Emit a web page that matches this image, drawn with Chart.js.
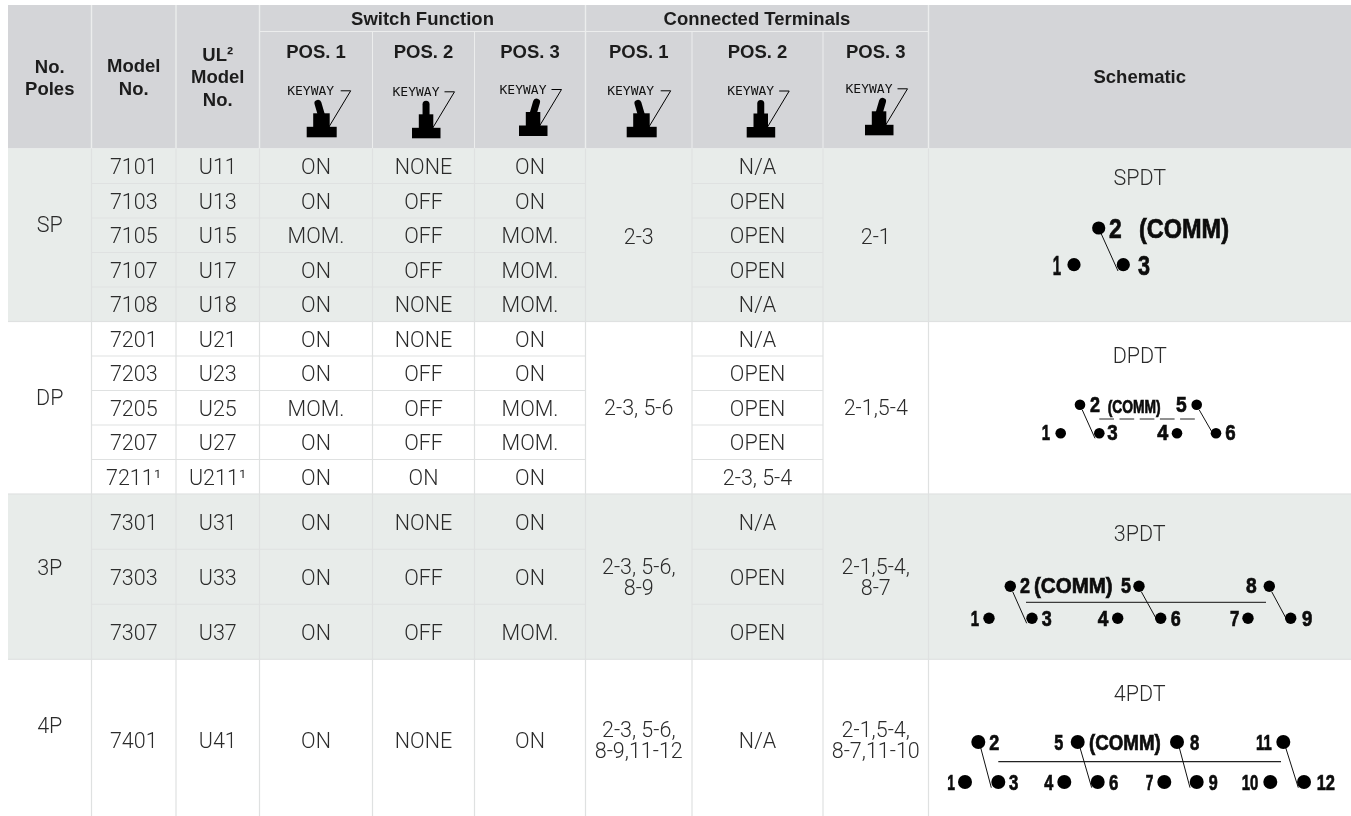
<!DOCTYPE html>
<html>
<head>
<meta charset="utf-8">
<title>Toggle switch table</title>
<script src="https://cdn.jsdelivr.net/npm/chart.js@4/dist/chart.umd.min.js"></script>
<style>
  html, body { margin: 0; padding: 0; background: #fff; }
  #wrap { width: 1351px; height: 816px; overflow: hidden; }
</style>
</head>
<body>
<div id="wrap"><canvas id="mychart" width="1351" height="816"></canvas></div>
<script>
// table content
const poles = ["SP", "DP", "3P", "4P"];
const modelNos = ["7101", "7103", "7105", "7107", "7108", "7201", "7203", "7205", "7207", "7211¹", "7301", "7303", "7307", "7401"];
const ulModelNos = ["U11", "U13", "U15", "U17", "U18", "U21", "U23", "U25", "U27", "U211¹", "U31", "U33", "U37", "U41"];
const switchPos1 = ["ON", "ON", "MOM.", "ON", "ON", "ON", "ON", "MOM.", "ON", "ON", "ON", "ON", "ON", "ON"];
const switchPos2 = ["NONE", "OFF", "OFF", "OFF", "NONE", "NONE", "OFF", "OFF", "OFF", "ON", "NONE", "OFF", "OFF", "NONE"];
const switchPos3 = ["ON", "ON", "MOM.", "MOM.", "MOM.", "ON", "ON", "MOM.", "MOM.", "ON", "ON", "ON", "MOM.", "ON"];
const connPos1 = [["2-3"], ["2-3, 5-6"], ["2-3, 5-6,", "8-9"], ["2-3, 5-6,", "8-9,11-12"]];
const connPos2 = ["N/A", "OPEN", "OPEN", "OPEN", "N/A", "N/A", "OPEN", "OPEN", "OPEN", "2-3, 5-4", "N/A", "OPEN", "OPEN", "N/A"];
const connPos3 = [["2-1"], ["2-1,5-4"], ["2-1,5-4,", "8-7"], ["2-1,5-4,", "8-7,11-10"]];
const schematicNames = ["SPDT", "DPDT", "3PDT", "4PDT"];
const positionHeads = ["POS. 1", "POS. 2", "POS. 3", "POS. 1", "POS. 2", "POS. 3"];

// layout, in scale units (one unit = one pixel on this canvas)
const colEdges = [8, 91.5, 176, 259.5, 372.5, 474.5, 585.5, 692, 823, 928.5, 1351];
const rowEdges = [148.5, 183.5, 218, 252.5, 287, 321.5, 356, 390.5, 425, 459.5, 494, 549.3, 604.3, 659.3, 816];
const groupRows = [[0, 5], [5, 10], [10, 13], [13, 14]]; // rows of each pole group
const poleTextY = [224, 397, 566.7, 725];
const connTextY = [236, 407, 577, 740];
const titleY = [177.5, 354.7, 533.3, 693.3];
const lastRowTextY = 740;

// schematic terminals: [x, y]
const spdtDots = [[1098.7, 228], [1074, 264.7], [1123.3, 264.7]];
const dpdtDots = [[1080, 404.7], [1060.7, 433.3], [1099.3, 433.3], [1177, 433.3], [1196.7, 404.7], [1216, 433.3]];
const tpdtDots = [[1010.3, 586.3], [989, 618.3], [1032, 618.3], [1117.7, 618.3], [1139, 586.3], [1160.7, 618.3], [1248, 618.3], [1269.3, 586.3], [1290.7, 618.3]];
const fpdtDots = [[978.3, 742], [965, 782], [998.3, 782], [1064.3, 782], [1077.7, 742], [1097.7, 782], [1164.3, 782], [1177, 742], [1196.7, 782], [1270.3, 782], [1283.3, 742], [1304, 782]];

// schematic wires: [x0, y0, x1, y1]
const spdtWires = [[1101, 233.3, 1118, 271]];
const dpdtWires = [[1082.3, 410, 1095, 438.3], [1199.3, 410, 1212.7, 433.3]];
const tpdtWires = [[1012.7, 591.7, 1026.7, 623.3], [1141.3, 591.7, 1156, 618.3], [1271.7, 591.7, 1286, 618.3]];
const fpdtWires = [[980.7, 747.7, 991.3, 787.7], [1080, 747.7, 1091.7, 787.7], [1179.3, 747.7, 1190, 787.7], [1285.7, 747.7, 1298.3, 787.7]];

// schematic labels: [text, x0, x1, centerY, capHeight]
const schematicLabels = [
  ["2", 1109, 1121.7, 228, 19], ["(COMM)", 1139, 1229, 228, 19], ["1", 1052.7, 1061, 265, 19], ["3", 1138, 1150, 265, 19],
  ["2", 1090, 1100, 404.3, 15.7], ["(COMM)", 1107.7, 1160.7, 406.7, 12.7], ["5", 1176, 1186.7, 404.3, 15.7], ["1", 1041.7, 1050, 432, 15.7], ["3", 1107.3, 1117.7, 432, 15.7], ["4", 1157.3, 1168.3, 432, 15.7], ["6", 1225.3, 1235.7, 432, 15.7],
  ["2", 1020, 1030, 585, 15.7], ["(COMM)", 1034, 1112.7, 585, 15.7], ["5", 1121, 1131, 585, 15.7], ["8", 1246, 1256.7, 585, 15.7], ["1", 970.7, 979, 618.3, 15.7], ["3", 1041.7, 1051.7, 618.3, 15.7], ["4", 1097.7, 1108.3, 618.3, 15.7], ["6", 1170.7, 1180.7, 618.3, 15.7], ["7", 1230, 1239.3, 618.3, 15.7], ["9", 1302, 1312.3, 618.3, 15.7],
  ["2", 989.3, 999.3, 742, 15], ["5", 1054.3, 1063.3, 742, 15], ["(COMM)", 1089, 1160.7, 742, 15], ["8", 1190, 1199.3, 742, 15], ["11", 1256, 1271.7, 742, 15], ["1", 947.3, 955, 782, 15], ["3", 1009, 1018.3, 782, 15], ["4", 1044.3, 1053.3, 782, 15], ["6", 1109, 1118.3, 782, 15], ["7", 1145.7, 1153.3, 782, 15], ["9", 1208.7, 1217.7, 782, 15], ["10", 1241.7, 1258.3, 782, 15], ["12", 1316.7, 1335, 782, 15],
];

// toggle icons: [base left, base bottom, lever tilt -1/0/1]
const toggles = [[306.7, 137.3, -1], [412, 138.3, 0], [519, 136, 1], [626.7, 137.3, -1], [746.7, 137.5, 0], [865, 135.3, 1]];

const HEAD_BG = "#d4d5d8";
const BAND_BG = "#e8ecea";
const GRID = "#dfe1e1";
const HEAD_LINE = "#eceded";
const INK = "#2b2b2b";
const HEAD_INK = "#1c1c1c";
const BOLD = "bold 18.5px 'Liberation Sans'";
const BODY = "300 21.5px Roboto";

function wireSets(wires, width) {
  return wires.map((w) => ({
    type: "scatter", showLine: true, pointRadius: 0, borderColor: "#111", borderWidth: width || 1,
    data: [{ x: w[0], y: w[1] }, { x: w[2], y: w[3] }],
  }));
}
function dotSet(dots, r) {
  return {
    type: "scatter", showLine: false, pointRadius: r, pointBorderWidth: 0, pointBackgroundColor: "#000",
    data: dots.map((d) => ({ x: d[0], y: d[1] })),
  };
}

const tablePlugin = {
  id: "tablePlugin",
  beforeDatasetsDraw(chart) {
    const ctx = chart.ctx;
    const xs = chart.scales.x;
    const ys = chart.scales.y;
    const X = (v) => xs.getPixelForValue(v);
    const Y = (v) => ys.getPixelForValue(v);

    function rect(x0, y0, x1, y1, color) {
      ctx.fillStyle = color;
      ctx.fillRect(X(x0), Y(y0), X(x1) - X(x0), Y(y1) - Y(y0));
    }
    function hline(x0, x1, y, color, w) {
      rect(x0, y - w / 2, x1, y + w / 2, color);
    }
    function vline(x, y0, y1, color, w) {
      rect(x - w / 2, y0, x + w / 2, y1, color);
    }
    function text(str, x, y, font, color) {
      ctx.font = font;
      ctx.fillStyle = color || INK;
      ctx.textAlign = "center";
      ctx.textBaseline = "middle";
      ctx.fillText(str, X(x), Y(y));
    }
    // y is where the capitals should be centred
    const head = (str, x, y) => text(str, x, y + 1, BOLD, HEAD_INK);
    const body = (str, x, y) => text(str, x, y + 2.5, BODY, INK);
    const mid = (i) => (colEdges[i] + colEdges[i + 1]) / 2;

    // backgrounds
    rect(colEdges[0], 5, 1351, rowEdges[0], HEAD_BG);
    rect(colEdges[0], rowEdges[0], 1351, rowEdges[5], BAND_BG);
    rect(colEdges[0], rowEdges[10], 1351, rowEdges[13], BAND_BG);

    // header lines
    [1, 2, 3, 6, 9].forEach((i) => vline(colEdges[i], 5, rowEdges[0], HEAD_LINE, 1.4));
    [4, 5, 7, 8].forEach((i) => vline(colEdges[i], 32, rowEdges[0], HEAD_LINE, 1));
    hline(colEdges[3], colEdges[9], 31.5, HEAD_LINE, 1);

    // body lines
    for (let i = 1; i < 10; i++) vline(colEdges[i], rowEdges[0], 816, GRID, 1.2);
    groupRows.forEach((g) => {
      for (let r = g[0] + 1; r < g[1]; r++) {
        [[1, 6], [7, 8]].forEach((c) => hline(colEdges[c[0]], colEdges[c[1]], rowEdges[r], GRID, 1));
      }
    });
    [5, 10, 13].forEach((r) => hline(colEdges[0], 1351, rowEdges[r], GRID, 1.2));

    // header text
    head("No.", mid(0), 66.7);
    head("Poles", mid(0), 89);
    head("Model", mid(1), 65.7);
    head("No.", mid(1), 89);
    head("UL²", mid(2), 55);
    head("Model", mid(2), 77);
    head("No.", mid(2), 99.7);
    head("Switch Function", (colEdges[3] + colEdges[6]) / 2, 18.7);
    head("Connected Terminals", (colEdges[6] + colEdges[9]) / 2, 18.7);
    head("Schematic", mid(9), 77);
    positionHeads.forEach((h, i) => head(h, mid(3 + i), 52.3));

    // toggle icons
    toggles.forEach((t) => {
      const bx = X(t[0]);
      const by = Y(t[1]);
      const tilt = t[2];
      const baseW = tilt < 0 ? 30 : 28.5;
      const stemX = tilt < 0 ? bx + 6.5 : bx + 6.8;
      const stemW = tilt < 0 ? 16.5 : 14.5;
      ctx.fillStyle = "#000";
      ctx.fillRect(bx, by - 10.5, baseW, 10.5);
      ctx.fillRect(stemX, by - 24, stemW, 14);
      ctx.strokeStyle = "#000";
      ctx.lineCap = "round";
      ctx.lineWidth = 7;
      const cx = stemX + stemW / 2;
      ctx.beginPath();
      ctx.moveTo(cx, by - 22);
      ctx.lineTo(cx + tilt * 3.5, by - 34);
      ctx.stroke();
      ctx.lineCap = "butt";
      ctx.lineWidth = 1;
      ctx.beginPath();
      ctx.moveTo(bx + baseW - 8, by - 10);
      ctx.lineTo(bx + baseW + 14, by - 46.5);
      ctx.lineTo(bx + baseW + 4, by - 46.5);
      ctx.stroke();
      ctx.font = "13px 'DejaVu Sans Mono'";
      ctx.fillStyle = "#111";
      ctx.textAlign = "left";
      ctx.textBaseline = "alphabetic";
      ctx.fillText("KEYWAY", bx - 19.5, by - 42.5);
    });

    // body text
    modelNos.forEach((m, r) => {
      const y = r === modelNos.length - 1 ? lastRowTextY : (rowEdges[r] + rowEdges[r + 1]) / 2;
      body(m, mid(1), y);
      body(ulModelNos[r], mid(2), y);
      body(switchPos1[r], mid(3), y);
      body(switchPos2[r], mid(4), y);
      body(switchPos3[r], mid(5), y);
      body(connPos2[r], mid(7), y);
    });
    poles.forEach((p, g) => {
      body(p, mid(0), poleTextY[g]);
      [[connPos1, 6], [connPos3, 8]].forEach(([lines, col]) => {
        const parts = lines[g];
        parts.forEach((s, k) => body(s, mid(col), connTextY[g] + (k - (parts.length - 1) / 2) * 21));
      });
      body(schematicNames[g], mid(9), titleY[g]);
    });

    // terminal labels, narrow bold stretched to the measured box
    schematicLabels.forEach(([s, x0, x1, cy, cap]) => {
      const size = cap / 0.69;
      ctx.font = "bold " + size + "px 'Liberation Sans Narrow', 'Liberation Sans'";
      ctx.textAlign = "left";
      ctx.textBaseline = "alphabetic";
      ctx.fillStyle = "#0c0c0c";
      ctx.strokeStyle = "#0c0c0c";
      ctx.lineWidth = 0.7;
      const m = ctx.measureText(s);
      const k = (X(x1) - X(x0)) / m.width;
      ctx.save();
      ctx.translate(X(x0), Y(cy) + cap / 2);
      ctx.scale(k, 1);
      ctx.fillText(s, 0, 0);
      ctx.strokeText(s, 0, 0);
      ctx.restore();
    });
  },
};

const datasets = [
  dotSet(spdtDots, 6.6), dotSet(dpdtDots, 5.3), dotSet(tpdtDots, 5.7), dotSet(fpdtDots, 7),
  ...wireSets(spdtWires), ...wireSets(dpdtWires), ...wireSets(tpdtWires), ...wireSets(fpdtWires),
  { type: "scatter", showLine: true, pointRadius: 0, borderColor: "#222", borderWidth: 1, borderDash: [14.7, 5.5],
    data: [{ x: 1099.3, y: 419 }, { x: 1195, y: 419 }] },
  { type: "scatter", showLine: true, pointRadius: 0, borderColor: "#111", borderWidth: 1,
    data: [{ x: 1026, y: 602.3 }, { x: 1266, y: 602.3 }] },
  { type: "scatter", showLine: true, pointRadius: 0, borderColor: "#222", borderWidth: 1.2,
    data: [{ x: 998.3, y: 761.7 }, { x: 1281, y: 761.7 }] },
];

new Chart(document.getElementById("mychart"), {
  type: "scatter",
  data: { datasets },
  options: {
    responsive: false,
    animation: false,
    layout: { padding: 0, autoPadding: false },
    plugins: { legend: { display: false }, title: { display: false }, tooltip: { enabled: false } },
    scales: {
      x: { type: "linear", display: false, min: 0, max: 1351 },
      y: { type: "linear", display: false, min: 0, max: 816, reverse: true },
    },
  },
  plugins: [tablePlugin],
});
</script>
</body>
</html>
